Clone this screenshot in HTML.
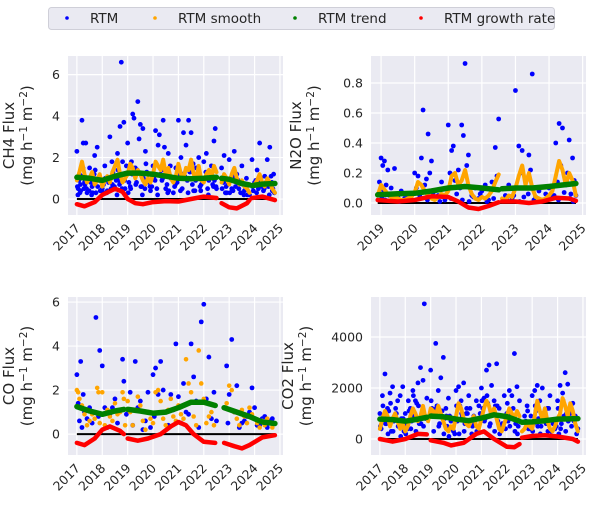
<!DOCTYPE html>
<html><head><meta charset="utf-8"><style>
body{margin:0;background:#fff;width:600px;height:504px;overflow:hidden;font-family:"Liberation Sans","DejaVu Sans",sans-serif}
svg text{font-family:"DejaVu Sans","Liberation Sans",sans-serif;fill:#262626}
</style></head><body>
<svg id="chart" width="600" height="504" viewBox="0 0 600 504" xmlns="http://www.w3.org/2000/svg">
<g>
<rect x="48.5" y="7.5" width="506" height="22" rx="3" fill="#eaeaf2" stroke="#cfcfd8"/>
<circle cx="67" cy="18" r="1.8" fill="#0000ff"/>
<text x="90" y="23" font-size="13.5">RTM</text>
<circle cx="155" cy="18" r="1.8" fill="#ffa500"/>
<text x="178" y="23" font-size="13.5">RTM smooth</text>
<circle cx="295" cy="18" r="1.8" fill="#008000"/>
<text x="318" y="23" font-size="13.5">RTM trend</text>
<circle cx="421" cy="18" r="1.8" fill="#ff0000"/>
<text x="444" y="23" font-size="13.5">RTM growth rate</text>
</g>
</svg>
<script>
// ---------- CH4 ----------
const ch4RtmT=[2017.0,2017.05,2017.1,2017.15,2017.2,2017.25,2017.3,2017.35,2017.4,2017.5,2017.6,2017.7,2017.75,2017.8,2017.9,2018.0,2018.1,2018.2,2018.3,2018.4,2018.5,2018.6,2018.7,2018.75,2018.8,2018.85,2018.9,2019.0,2019.1,2019.2,2019.25,2019.3,2019.4,2019.45,2019.5,2019.55,2019.6,2019.7,2019.8,2019.9,2020.0,2020.1,2020.2,2020.25,2020.3,2020.4,2020.45,2020.5,2020.6,2020.7,2020.8,2020.9,2021.0,2021.1,2021.2,2021.25,2021.3,2021.4,2021.5,2021.6,2021.7,2021.8,2021.9,2022.0,2022.1,2022.2,2022.3,2022.4,2022.45,2022.5,2022.7,2022.8,2022.9,2023.0,2023.1,2023.2,2023.3,2023.4,2023.5,2023.6,2023.8,2023.9,2024.0,2024.1,2024.2,2024.3,2024.4,2024.5,2024.6,2024.7,2024.75,
2017.02,2017.08,2017.12,2017.18,2017.28,2017.32,2017.42,2017.48,2017.55,2017.62,2017.68,2017.82,2017.88,2017.95,2018.05,2018.12,2018.18,2018.25,2018.35,2018.42,2018.48,2018.55,2018.62,2018.68,2018.72,2018.78,2018.88,2018.95,2019.05,2019.12,2019.18,2019.32,2019.38,2019.52,2019.62,2019.68,2019.75,2019.85,2019.95,2020.05,2020.15,2020.35,2020.42,2020.55,2020.62,2020.75,2020.85,2020.95,2021.05,2021.15,2021.35,2021.45,2021.55,2021.65,2021.75,2021.85,2021.95,2022.05,2022.15,2022.25,2022.35,2022.42,2022.48,2022.72,2022.78,2022.85,2022.95,2023.05,2023.15,2023.25,2023.35,2023.45,2023.55,2023.65,2023.72,2023.92,2024.05,2024.15,2024.25,2024.35,2024.45,2024.55,2024.65,2024.72,2024.78,
2017.04,2017.14,2017.24,2017.38,2017.58,2017.72,2017.92,2018.08,2018.22,2018.38,2018.58,2018.64,2018.82,2019.02,2019.15,2019.35,2019.58,2019.72,2019.88,2020.08,2020.18,2020.38,2020.58,2020.68,2020.88,2021.08,2021.18,2021.38,2021.58,2021.68,2021.88,2022.08,2022.18,2022.38,2022.75,2022.88,2023.02,2023.18,2023.38,2023.58,2023.68,2023.95,2024.08,2024.18,2024.38,2024.58,2024.68];
const ch4Rtm=[2.3,0.5,1.2,0.4,3.8,2.7,0.8,2.7,0.3,1.5,0.6,2.1,0.3,2.5,0.9,0.5,1.6,0.4,3.0,0.7,1.1,2.2,3.5,6.6,1.8,3.7,0.5,2.7,0.6,4.1,3.9,1.5,4.7,2.9,3.6,0.6,3.4,2.3,0.9,0.4,1.6,3.3,2.6,3.1,1.2,3.8,2.5,0.5,2.2,1.0,0.3,1.5,3.8,2.0,3.2,1.1,2.6,3.8,3.2,0.4,1.5,2.0,0.7,1.8,2.2,0.9,1.6,2.8,3.4,0.5,1.5,2.1,0.3,1.9,0.5,2.3,1.2,0.8,1.6,0.4,0.2,1.9,0.8,1.4,2.7,0.6,1.1,1.9,2.5,0.4,1.2,
0.6,0.9,0.3,1.1,0.5,0.7,1.0,0.4,0.8,0.3,1.2,0.6,0.9,0.4,0.7,1.0,0.3,0.8,0.5,1.3,0.6,0.9,1.4,0.7,1.1,0.5,0.9,1.6,0.8,0.5,1.2,0.7,1.4,0.6,1.0,0.5,1.3,0.8,0.6,1.1,0.5,0.9,1.4,0.7,0.4,1.0,0.6,0.8,1.2,0.5,0.9,1.3,0.7,0.4,1.1,0.6,0.8,1.0,0.5,1.3,0.7,0.9,0.6,0.5,0.8,0.3,0.7,1.0,0.4,0.6,0.9,0.3,0.7,0.5,0.2,0.6,0.9,0.5,1.0,0.4,0.8,0.6,1.1,0.5,0.3,
0.2,0.7,1.5,0.5,0.2,1.4,0.4,0.3,0.9,1.8,0.2,0.9,1.2,0.3,1.8,0.8,0.2,1.7,0.6,0.9,0.2,1.0,0.3,1.6,0.7,0.4,1.2,0.3,1.7,0.9,0.4,1.3,0.2,0.6,0.9,0.6,0.3,1.1,0.5,0.2,1.0,0.4,0.3,0.9,0.5,0.2,0.8];
const ch4SmoothT=[2017.0,2017.1,2017.2,2017.3,2017.4,2017.5,2017.6,2017.7,2017.8,2017.9,2018.0,2018.1,2018.2,2018.3,2018.4,2018.5,2018.6,2018.7,2018.8,2018.9,2019.0,2019.1,2019.2,2019.3,2019.4,2019.5,2019.6,2019.7,2019.8,2019.9,2020.0,2020.1,2020.2,2020.3,2020.4,2020.5,2020.6,2020.7,2020.8,2020.9,2021.0,2021.1,2021.2,2021.3,2021.4,2021.5,2021.6,2021.7,2021.8,2021.9,2022.0,2022.1,2022.2,2022.3,2022.4,2022.5,2022.6,2022.7,2022.8,2022.9,2023.0,2023.1,2023.2,2023.3,2023.4,2023.5,2023.6,2023.7,2023.8,2023.9,2024.0,2024.1,2024.2,2024.3,2024.4,2024.5,2024.6,2024.7,2024.8];
const ch4Smooth=[0.9,1.3,1.8,1.2,0.8,1.0,1.3,0.7,0.9,1.2,0.6,0.9,1.1,0.8,1.3,1.6,1.9,1.2,0.8,1.0,1.2,1.7,1.5,1.0,1.4,1.2,0.9,0.7,1.0,0.8,1.2,1.8,1.6,1.4,1.9,1.2,1.5,1.0,0.8,1.1,1.7,1.2,1.0,1.5,1.4,1.9,1.2,1.0,1.6,0.9,0.8,1.2,1.4,1.0,1.6,1.3,null,0.8,1.2,1.0,0.7,1.2,1.5,1.0,0.7,0.9,0.6,0.5,0.3,null,0.7,0.9,1.2,0.8,0.6,1.0,0.8,0.5,0.3];
const ch4TrendT=[2017.0,2017.5,2018.0,2018.5,2019.0,2019.5,2020.0,2020.5,2021.0,2021.5,2022.0,2022.5,2022.6,2022.7,2023.0,2023.5,2023.8,2023.85,2023.9,2024.3,2024.8];
const ch4Trend=[1.05,1.0,0.9,1.1,1.25,1.25,1.2,1.1,1.0,0.98,1.0,1.05,null,1.0,0.95,0.75,0.68,null,0.65,0.72,0.75];
const ch4GrowthT=[2017.0,2017.3,2017.7,2018.0,2018.5,2018.8,2019.0,2019.3,2019.6,2020.0,2020.5,2021.0,2021.5,2022.0,2022.5,2022.6,2022.7,2023.0,2023.3,2023.7,2023.8,2023.85,2023.9,2024.3,2024.8];
const ch4Growth=[-0.25,-0.35,-0.15,0.2,0.5,0.35,0.0,-0.2,-0.25,-0.15,-0.1,-0.12,0.0,0.12,0.05,null,-0.2,-0.4,-0.45,-0.2,-0.05,null,0.05,0.12,-0.05];
const ch4Ticks=[0,2,4,6];
// ---------- N2O ----------
const n2oRtmT=[2019.0,2019.05,2019.1,2019.2,2019.4,2020.0,2020.2,2020.25,2020.4,2020.5,2021.0,2021.1,2021.15,2021.4,2021.45,2021.5,2021.6,2022.4,2022.5,2023.0,2023.1,2023.2,2023.4,2023.5,2024.2,2024.3,2024.4,2024.6,2024.7,
2018.95,2019.08,2019.15,2019.25,2019.3,2019.5,2019.6,2019.7,2019.8,2019.9,2020.05,2020.1,2020.3,2020.35,2020.45,2020.6,2020.7,2020.8,2020.9,2021.05,2021.2,2021.3,2021.35,2021.55,2021.7,2021.8,2021.9,2022.0,2022.1,2022.2,2022.3,2022.45,2022.7,2022.8,2022.9,2023.05,2023.15,2023.3,2023.45,2023.6,2023.7,2023.8,2023.9,2024.0,2024.1,2024.25,2024.35,2024.5,2024.55,2024.65,2024.75,2024.8,
2019.02,2019.12,2019.35,2019.55,2019.75,2020.15,2020.38,2020.55,2020.75,2021.08,2021.25,2021.42,2021.62,2021.75,2021.95,2022.15,2022.35,2022.75,2022.95,2023.12,2023.25,2023.38,2023.55,2023.75,2023.95,2024.15,2024.28,2024.45,2024.62,2024.72];
const n2oRtm=[0.3,0.25,0.28,0.22,0.23,0.2,0.3,0.62,0.46,0.28,0.52,0.35,0.38,0.52,0.45,0.93,0.32,0.37,0.56,0.75,0.38,0.35,0.32,0.86,0.4,0.53,0.5,0.42,0.3,
0.14,0.08,0.12,0.05,0.1,0.04,0.08,0.03,0.06,0.02,0.1,0.18,0.12,0.16,0.2,0.08,0.05,0.14,0.02,0.2,0.15,0.22,0.1,0.25,0.05,0.1,0.03,0.08,0.12,0.02,0.14,0.18,0.05,0.12,0.03,0.1,0.2,0.16,0.22,0.04,0.08,0.02,0.06,0.1,0.04,0.14,0.25,0.12,0.2,0.06,0.15,0.05,
0.04,0.02,0.06,0.01,0.03,0.05,0.02,0.07,0.01,0.03,0.06,0.02,0.01,0.04,0.06,0.01,0.03,0.02,0.05,0.01,0.04,0.06,0.02,0.01,0.03,0.05,0.02,0.07,0.03,0.01];
const n2oSmoothT=[2018.9,2019.0,2019.1,2019.2,2019.3,2019.4,2019.5,2019.6,2019.7,2019.8,2019.9,2020.0,2020.1,2020.2,2020.3,2020.4,2020.5,2020.6,2020.7,2020.8,2020.9,2021.0,2021.1,2021.2,2021.3,2021.4,2021.5,2021.6,2021.7,2021.8,2021.9,2022.0,2022.1,2022.2,2022.3,2022.4,2022.5,2022.55,2022.6,2022.7,2022.8,2022.9,2023.0,2023.1,2023.2,2023.3,2023.4,2023.5,2023.6,2023.7,2023.8,2023.9,2024.0,2024.1,2024.2,2024.3,2024.4,2024.5,2024.6,2024.7,2024.8];
const n2oSmooth=[0.05,0.12,0.09,0.06,0.04,0.03,0.03,0.02,0.02,0.03,0.04,0.07,0.14,0.12,0.08,0.05,0.03,0.02,0.04,0.06,0.05,0.08,0.18,0.2,0.12,0.15,0.22,0.12,0.06,0.03,0.02,0.04,0.03,0.05,0.08,0.14,0.19,null,0.03,0.02,0.05,0.04,0.1,0.18,0.25,0.12,0.2,0.1,0.04,0.03,0.02,0.03,0.05,0.08,0.18,0.28,0.22,0.12,0.2,0.15,0.05];
const n2oTrendT=[2018.9,2019.5,2020.0,2020.5,2021.0,2021.5,2022.0,2022.5,2022.55,2022.6,2023.0,2023.5,2024.0,2024.8];
const n2oTrend=[0.055,0.062,0.065,0.08,0.1,0.11,0.1,0.088,null,0.095,0.1,0.1,0.11,0.13];
const n2oGrowthT=[2018.9,2019.5,2020.0,2020.5,2021.0,2021.3,2021.6,2021.9,2022.2,2022.5,2022.55,2022.6,2023.0,2023.4,2023.8,2024.2,2024.6,2024.8];
const n2oGrowth=[0.02,0.01,0.02,0.045,0.04,0.01,-0.03,-0.04,-0.02,0.005,null,0.01,0.01,0.0,0.01,0.035,0.03,0.015];
const n2oTicks=[0.0,0.2,0.4,0.6,0.8];
// ---------- CO ----------
const coRtmT=[2017.0,2017.05,2017.15,2017.25,2017.4,2017.5,2017.75,2017.9,2018.0,2018.1,2018.3,2018.5,2018.8,2018.85,2019.1,2019.3,2019.5,2019.6,2019.8,2020.0,2020.1,2020.2,2020.3,2020.4,2020.5,2020.7,2020.9,2021.0,2021.2,2021.3,2021.5,2021.6,2021.7,2021.9,2022.0,2022.1,2022.2,2022.4,2022.5,2022.9,2023.0,2023.1,2023.3,2023.5,2023.7,2023.9,2024.0,2024.2,2024.4,2024.6,2024.7,
2017.1,2017.2,2017.3,2017.6,2017.85,2018.2,2018.4,2018.6,2018.95,2019.2,2019.4,2019.7,2019.9,2020.05,2020.6,2020.8,2021.1,2021.4,2021.8,2022.3,2022.95,2023.2,2023.4,2023.6,2023.8,2024.1,2024.3,2024.5,2024.75];
const coRtm=[2.7,1.4,3.3,1.8,0.7,1.2,5.3,3.8,3.1,1.2,0.9,1.6,3.4,2.4,1.9,3.3,1.5,0.2,1.9,2.7,3.0,1.8,3.3,2.0,1.0,1.8,4.1,1.7,2.3,1.0,4.1,2.6,1.5,5.1,5.9,1.6,3.5,1.9,0.6,3.1,1.8,4.3,2.2,0.5,0.8,2.1,1.2,0.4,0.8,0.6,0.7,
0.6,0.3,1.0,0.5,0.8,0.3,1.2,0.5,0.9,0.4,1.2,0.6,0.3,0.8,0.4,1.1,0.5,0.9,0.3,0.7,0.5,1.0,0.3,0.6,1.0,0.4,0.7,0.3,0.5];
const coSmoothT=[2017.0,2017.05,2017.1,2017.2,2017.3,2017.4,2017.5,2017.6,2017.7,2017.8,2017.85,2017.9,2018.0,2018.1,2018.2,2018.3,2018.4,2018.5,2018.6,2018.7,2018.8,2018.85,2018.9,2019.0,2019.1,2019.2,2019.3,2019.4,2019.5,2019.6,2019.7,2019.8,2019.9,2020.0,2020.1,2020.2,2020.3,2020.4,2020.5,2020.6,2020.7,2020.8,2020.9,2021.0,2021.1,2021.2,2021.3,2021.4,2021.5,2021.6,2021.7,2021.8,2021.9,2022.0,2022.1,2022.2,2022.3,2022.4,2022.9,2023.0,2023.1,2023.2,2023.3,2023.4,2023.5,2023.6,2023.7,2023.8,2023.9,2024.0,2024.1,2024.2,2024.3,2024.4,2024.5,2024.6,2024.7,2024.8];
const coSmooth=[2.0,1.9,1.6,1.3,0.9,0.4,0.6,0.9,0.7,2.1,1.9,0.5,1.9,0.4,1.1,0.8,0.6,1.4,0.9,1.0,1.9,1.6,0.4,1.5,1.0,0.4,1.1,1.7,1.3,0.6,0.2,1.0,0.7,0.5,1.9,2.0,1.5,0.7,0.4,1.1,1.6,0.8,0.6,1.3,0.9,0.7,3.4,2.3,1.9,0.8,0.4,3.8,2.3,1.6,0.5,0.8,1.0,0.4,1.4,2.2,2.0,1.0,0.7,0.4,1.1,0.8,0.5,1.2,0.9,0.7,0.5,0.3,0.6,0.4,0.7,0.5,0.3];
const coTrendT=[2017.0,2017.5,2018.0,2018.5,2018.85,2018.9,2019.0,2019.5,2020.0,2020.5,2021.0,2021.5,2022.0,2022.45,2022.6,2022.8,2023.3,2023.8,2024.3,2024.8];
const coTrend=[1.25,1.05,0.9,1.05,1.12,null,1.12,1.05,0.95,1.0,1.2,1.45,1.45,1.3,null,1.2,1.0,0.8,0.55,0.48];
const coGrowthT=[2017.0,2017.3,2017.7,2018.0,2018.3,2018.7,2018.85,2018.9,2019.0,2019.4,2019.8,2020.3,2020.7,2021.0,2021.3,2021.6,2022.0,2022.45,2022.6,2022.8,2023.2,2023.5,2023.8,2024.3,2024.8];
const coGrowth=[-0.4,-0.5,-0.2,0.2,0.35,0.15,0.0,null,-0.2,-0.3,-0.2,0.0,0.35,0.55,0.4,0.0,-0.35,-0.4,null,-0.4,-0.55,-0.65,-0.5,-0.15,-0.05];
const coTicks=[0,2,4,6];
// ---------- CO2 ----------
const co2RtmT=[2017.0,2017.1,2017.2,2017.3,2017.4,2017.5,2017.6,2017.7,2017.8,2017.9,2018.0,2018.1,2018.2,2018.3,2018.4,2018.5,2018.6,2018.7,2018.75,2018.85,2019.0,2019.1,2019.2,2019.3,2019.4,2019.5,2019.6,2019.7,2019.8,2019.9,2020.0,2020.1,2020.2,2020.3,2020.4,2020.5,2020.6,2020.7,2020.8,2020.9,2021.0,2021.1,2021.2,2021.3,2021.4,2021.5,2021.6,2021.7,2021.8,2021.9,2022.0,2022.1,2022.2,2022.3,2022.4,2022.5,2022.7,2022.8,2022.9,2023.0,2023.1,2023.2,2023.3,2023.4,2023.5,2023.6,2023.7,2023.8,2023.9,2024.0,2024.1,2024.2,2024.3,2024.4,2024.5,2024.6,2024.7,2024.8,
2017.05,2017.15,2017.25,2017.35,2017.45,2017.55,2017.65,2017.75,2017.85,2017.95,2018.05,2018.15,2018.25,2018.35,2018.45,2018.55,2018.65,2018.8,2019.05,2019.15,2019.25,2019.35,2019.45,2019.55,2019.65,2019.75,2019.85,2019.95,2020.05,2020.15,2020.25,2020.35,2020.45,2020.55,2020.65,2020.75,2020.85,2020.95,2021.05,2021.15,2021.25,2021.35,2021.45,2021.55,2021.65,2021.75,2021.85,2021.95,2022.05,2022.15,2022.25,2022.35,2022.45,2022.75,2022.85,2022.95,2023.05,2023.15,2023.25,2023.35,2023.45,2023.55,2023.65,2023.75,2023.85,2023.95,2024.05,2024.15,2024.25,2024.35,2024.45,2024.55,2024.65,2024.75,
2017.02,2017.12,2017.22,2017.32,2017.42,2017.52,2017.62,2017.72,2017.82,2017.92,2018.02,2018.12,2018.22,2018.32,2018.42,2018.52,2018.62,2018.72,2019.02,2019.12,2019.22,2019.32,2019.42,2019.52,2019.62,2019.72,2019.82,2020.02,2020.12,2020.22,2020.32,2020.42,2020.62,2020.72,2020.82,2021.02,2021.12,2021.22,2021.32,2021.42,2021.52,2021.62,2021.72,2021.82,2022.02,2022.12,2022.22,2022.32,2022.42,2022.82,2023.02,2023.12,2023.22,2023.32,2023.42,2023.62,2023.82,2024.02,2024.12,2024.22,2024.32,2024.42,2024.52,2024.62];
const co2Rtm=[1000,1700,2550,1200,1800,2050,900,1500,1700,2050,1000,400,1200,1900,1500,2200,2800,2300,5300,1600,2700,1000,3750,1900,2400,3200,1200,1600,700,300,1900,2050,1500,2200,1000,1700,600,900,1500,1300,2000,1600,2700,2900,2100,1500,2950,1200,900,1700,1000,1900,1700,3350,2050,1500,900,1300,400,1700,1900,2100,1500,2000,900,1200,1700,700,400,1500,2100,1800,2600,2150,1000,1400,900,400,
400,900,600,1100,300,700,1000,500,800,300,600,1100,700,900,1400,600,1000,800,1200,900,1300,600,1100,800,500,900,400,200,700,1300,900,600,1000,1200,500,800,300,1000,1200,800,1400,600,1100,1300,700,500,900,400,700,1000,1200,600,500,700,400,900,600,1100,800,500,900,600,1200,300,700,500,200,600,900,1000,800,500,700,
200,500,1300,600,200,1400,300,1200,500,100,800,200,1500,400,1700,300,1300,600,500,1500,300,1200,500,1100,200,900,100,400,1300,200,1000,300,1200,200,600,300,1500,700,1700,500,1000,300,1300,200,600,1400,500,900,300,200,1100,300,1300,500,200,1000,300,600,1200,400,1500,300,700,1100];
const co2SmoothT=[2017.0,2017.1,2017.2,2017.3,2017.4,2017.5,2017.6,2017.7,2017.8,2017.9,2018.0,2018.1,2018.2,2018.3,2018.4,2018.5,2018.6,2018.7,2018.8,2018.85,2018.9,2019.0,2019.1,2019.2,2019.3,2019.4,2019.5,2019.6,2019.7,2019.8,2019.9,2020.0,2020.1,2020.2,2020.3,2020.4,2020.5,2020.6,2020.7,2020.8,2020.9,2021.0,2021.1,2021.2,2021.3,2021.4,2021.5,2021.6,2021.7,2021.8,2021.9,2022.0,2022.1,2022.2,2022.3,2022.4,2022.5,2022.55,2022.6,2022.7,2022.8,2022.9,2023.0,2023.1,2023.2,2023.3,2023.4,2023.5,2023.6,2023.7,2023.8,2023.9,2024.0,2024.1,2024.2,2024.3,2024.4,2024.5,2024.6,2024.7,2024.8];
const co2Smooth=[400,800,1100,900,500,800,1000,700,400,600,300,500,900,1200,1000,700,900,1300,800,null,700,1200,1100,900,1300,1000,700,400,300,500,400,900,1400,1200,800,600,500,700,900,500,400,800,1200,1500,1300,900,1200,800,400,300,600,900,1200,1000,800,1100,900,null,300,400,600,500,400,900,1500,1100,800,1200,700,400,300,500,800,1000,1600,1300,900,1400,1100,600,300];
const co2TrendT=[2017.0,2017.5,2018.0,2018.5,2018.85,2018.9,2019.0,2019.5,2020.0,2020.5,2021.0,2021.5,2022.0,2022.5,2022.55,2022.6,2023.0,2023.5,2024.0,2024.8];
const co2Trend=[780,760,700,780,850,null,900,870,780,720,820,950,880,700,null,660,670,720,780,800];
const co2GrowthT=[2017.0,2017.5,2018.0,2018.5,2018.85,2018.9,2019.0,2019.5,2019.8,2020.3,2020.8,2021.1,2021.5,2022.0,2022.3,2022.5,2022.55,2022.6,2023.0,2023.5,2024.0,2024.6,2024.8];
const co2Growth=[0,-100,0,200,180,null,-50,-150,-250,-150,200,300,0,-300,-320,-200,null,50,120,150,100,0,-100];
const co2Ticks=[0,2000,4000];

const yearTicks=[2017,2018,2019,2020,2021,2022,2023,2024,2025];
const n2oYearTicks=[2019,2020,2021,2022,2023,2024,2025];

const NS="http://www.w3.org/2000/svg";
const svg=document.getElementById('chart');
function mk(tag,attrs,parent){const e=document.createElementNS(NS,tag);for(const k in attrs)e.setAttribute(k,attrs[k]);parent.appendChild(e);return e;}

function panel(cfg){
  const g=mk('g',{},svg);
  
  
  const L=cfg.x0,R=cfg.x1,T=cfg.y0,B=cfg.y1;
  const sx=t=>L+(t-cfg.xmin)/(cfg.xmax-cfg.xmin)*(R-L);
  const sy=v=>B-(v-cfg.ymin)/(cfg.ymax-cfg.ymin)*(B-T);
  const bg=mk('rect',{x:L,y:T,width:R-L,height:B-T,fill:'#eaeaf2'},g);
  
  
  cfg.xticks.forEach(t=>{
    const x=sx(t);
    const gl=mk('line',{x1:x,x2:x,y1:T,y2:B,stroke:'#fff','stroke-width':1.2},g);
    
    
    const tx=mk('text',{x:x+4,y:B+14,'font-size':12.5,'text-anchor':'end',transform:`rotate(-45 ${x+4} ${B+14})`},g);
    tx.textContent=t;
    
    
  });
  cfg.yticks.forEach(v=>{
    const y=sy(v);
    const gl=mk('line',{x1:L,x2:R,y1:y,y2:y,stroke:'#fff','stroke-width':1.2},g);
    
    
    const tx=mk('text',{x:L-8,y:y+4.5,'font-size':12.5,'text-anchor':'end'},g);
    tx.textContent=cfg.fmt(v);
    
    
  });
  const cy=(T+B)/2;
  const t1=mk('text',{x:0,y:0,'font-size':15,'text-anchor':'middle',transform:`translate(${cfg.labelX+5} ${cy}) rotate(-90)`},g);
  t1.textContent=cfg.label;
  
  
  const t2=mk('text',{x:0,y:0,'font-size':15,'text-anchor':'middle',transform:`translate(${cfg.labelX+23} ${cy}) rotate(-90)`},g);
  t2.innerHTML='(mg h<tspan dy="-5" font-size="10.5">−1</tspan><tspan dy="5"> m</tspan><tspan dy="-5" font-size="10.5">−2</tspan><tspan dy="5">)</tspan>';
  
  
  const z=mk('line',{x1:sx(cfg.t0),x2:sx(cfg.t1),y1:sy(0),y2:sy(0),stroke:'#000','stroke-width':2},g);
  
  
  function dots(ts,vs,col,r,nm){
    ts.forEach((t,i)=>{ if(vs[i]==null)return;
      const c=mk('circle',{cx:sx(t),cy:sy(vs[i]),r:r,fill:col},g);
      
      
    });
  }
  function line(ts,vs,col,w,nm){
    let d='',pen=false;
    ts.forEach((t,i)=>{ if(vs[i]==null){pen=false;return;}
      d+=(pen?'L':'M')+sx(t).toFixed(1)+' '+sy(vs[i]).toFixed(1)+' ';pen=true;});
    const p=mk('path',{d:d,fill:'none',stroke:col,'stroke-width':w,'stroke-linecap':'round','stroke-linejoin':'round'},g);
    
    
  }
  dots(cfg.rt,cfg.rv,'#0000ff',2.4,'rtm-point');
  if(cfg.smoothDots) dots(cfg.st,cfg.sv,'#ffa500',2.3,'smooth-point');
  else line(cfg.st,cfg.sv,'#ffa500',4,'smooth-line');
  line(cfg.tt,cfg.tv,'#008000',5.5,'trend-line');
  line(cfg.gt,cfg.gv,'#ff0000',4.5,'growth-line');
}
const p1=v=>String(v);
panel({name:'ch4',x0:68,x1:283,y0:56,y1:215,xmin:2016.65,xmax:2025.12,ymin:-0.77,ymax:6.9,t0:2017,t1:2024.8,xticks:yearTicks,yticks:ch4Ticks,fmt:p1,label:'CH4 Flux',labelX:9,rt:ch4RtmT,rv:ch4Rtm,st:ch4SmoothT,sv:ch4Smooth,tt:ch4TrendT,tv:ch4Trend,gt:ch4GrowthT,gv:ch4Growth});
panel({name:'n2o',x0:371,x1:586,y0:56,y1:215,xmin:2018.7,xmax:2025.1,ymin:-0.08,ymax:0.98,t0:2018.9,t1:2024.8,xticks:n2oYearTicks,yticks:n2oTicks,fmt:v=>v.toFixed(1),label:'N2O Flux',labelX:296,rt:n2oRtmT,rv:n2oRtm,st:n2oSmoothT,sv:n2oSmooth,tt:n2oTrendT,tv:n2oTrend,gt:n2oGrowthT,gv:n2oGrowth});
panel({name:'co',x0:68,x1:283,y0:297,y1:455,xmin:2016.65,xmax:2025.12,ymin:-0.95,ymax:6.23,t0:2017,t1:2024.8,xticks:yearTicks,yticks:coTicks,fmt:p1,label:'CO Flux',labelX:9,rt:coRtmT,rv:coRtm,st:coSmoothT,sv:coSmooth,smoothDots:true,tt:coTrendT,tv:coTrend,gt:coGrowthT,gv:coGrowth});
panel({name:'co2',x0:371,x1:586,y0:297,y1:455,xmin:2016.65,xmax:2025.12,ymin:-627,ymax:5569,t0:2017,t1:2024.8,xticks:yearTicks,yticks:co2Ticks,fmt:p1,label:'CO2 Flux',labelX:288,rt:co2RtmT,rv:co2Rtm,st:co2SmoothT,sv:co2Smooth,tt:co2TrendT,tv:co2Trend,gt:co2GrowthT,gv:co2Growth});
</script>
</body></html>
